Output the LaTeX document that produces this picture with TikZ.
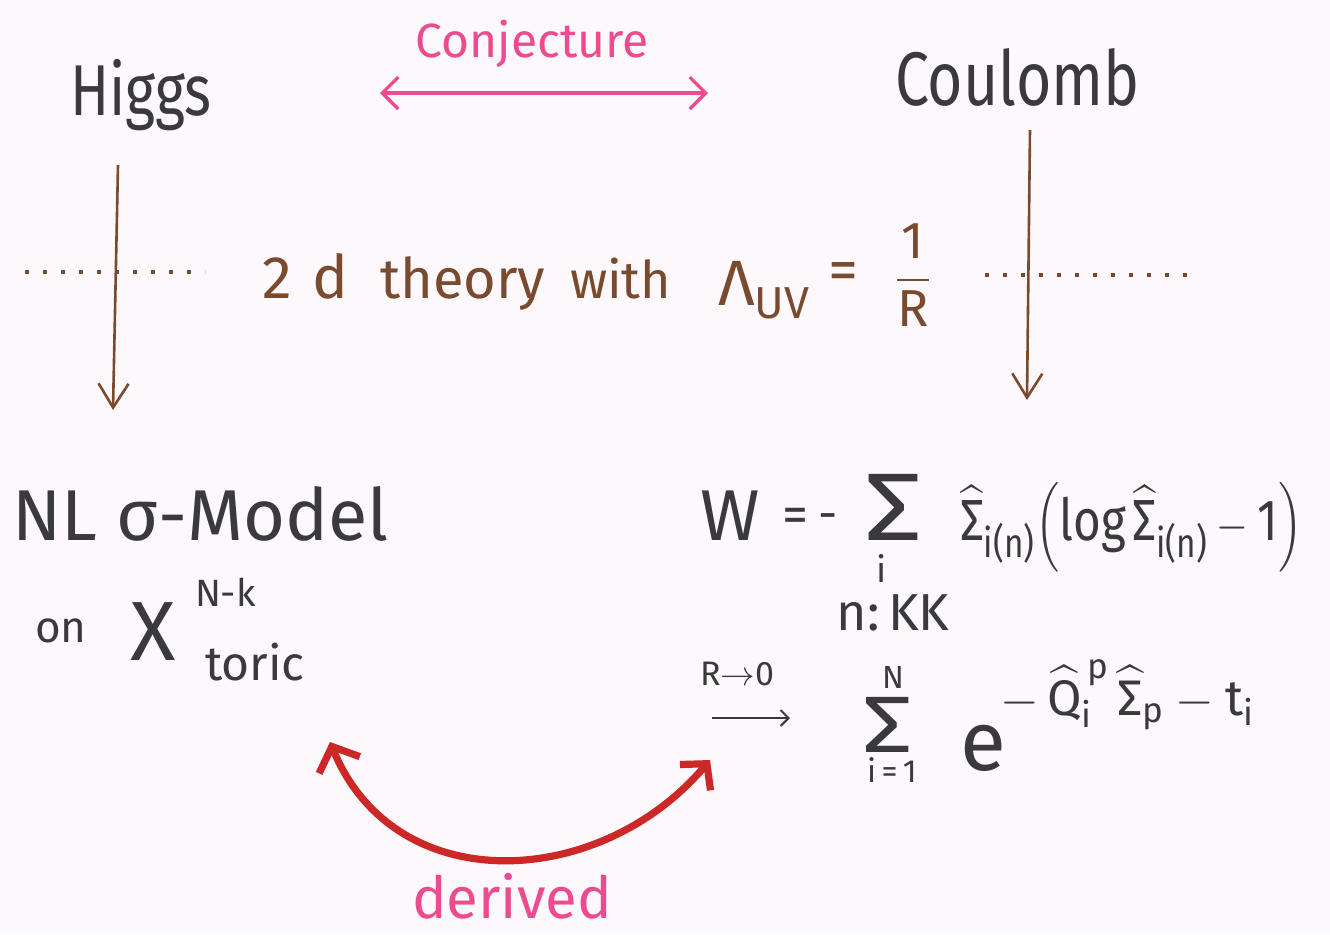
\documentclass[tikz,border=0pt]{standalone}
\usepackage{fontspec}
\usepackage{amsmath}
\usepackage{graphicx}
\setmainfont{Fira Sans}
\usetikzlibrary{arrows.meta}
\definecolor{bg}{HTML}{FCF8FB}
\definecolor{ink}{HTML}{3A3A3E}
\definecolor{brn}{HTML}{7A4A2E}
\definecolor{pnk}{HTML}{EE4A90}
\definecolor{redarr}{HTML}{CC2828}
\newcommand{\fs}[1]{\fontsize{#1}{#1}\selectfont}
\newcommand{\sq}[2]{\scalebox{#1}[1]{#2}}
\begin{document}
\begin{tikzpicture}[x=0.5pt,y=-0.5pt,
  txt/.style={inner sep=0pt, outer sep=0pt},
  inktxt/.style={txt, text=ink},
  brtxt/.style={txt, text=brn},
  pktxt/.style={txt, text=pnk},
  brarrow/.style={draw=brn, line width=1.3pt, -{Straight Barb[length=12pt,width=15pt]}},
  pkarrow/.style={draw=pnk, line width=1.6pt, {Straight Barb[length=8pt,width=16pt]}-{Straight Barb[length=8pt,width=16pt]}},
  dotline/.style={draw=brn, line width=2pt, dash pattern=on 2pt off 7pt},
  redarrow/.style={draw=redarr, line width=3.6pt, {Straight Barb[length=10pt,width=22pt]}-{Straight Barb[length=9pt,width=20pt]}}]
\fill[bg] (0,0) rectangle (1330,934);
\useasboundingbox (0,0) rectangle (1330,934);

% top labels
\node[inktxt, anchor=base west] (higgs) at (70,115) {\fs{36}\sq{0.8}{Higgs}};
\node[pktxt, anchor=base] (conj) at (532,57) {\fs{24}Conjecture};
\node[inktxt, anchor=base west] (coul) at (895,105) {\fs{38}\sq{0.8}{Coulomb}};

% conjecture arrow
\coordinate (pl) at (380,93);
\coordinate (pr) at (708,93);
\draw[pkarrow] (pl) -- (pr);

% dotted lines
\coordinate (dl1) at (25,272);
\coordinate (dl2) at (205,272);
\coordinate (dr1) at (985,275);
\coordinate (dr2) at (1195,275);
\draw[dotline] (dl1) -- (dl2);
\draw[dotline] (dr1) -- (dr2);

% brown arrows
\coordinate (lt) at (118,165);
\coordinate (lb) at (113,410);
\coordinate (rt) at (1030,130);
\coordinate (rb) at (1027,400);
\draw[brarrow] (lt) -- (lb);
\draw[brarrow] (rt) -- (rb);

% 2d theory line
\node[brtxt, anchor=base west] (twod) at (262,298) {\fs{30}2\hspace{0.35em}d};
\node[brtxt, anchor=base west] (theory) at (380,298) {\fs{28}theory};
\node[brtxt, anchor=base west] (with) at (570,298) {\fs{26}with};
\node[brtxt, anchor=base west] (lam) at (718,305) {\fs{32}$\text{Λ}_{\text{UV}}$};
\node[brtxt, anchor=base west] (eq) at (828,290) {\fs{30}=};
\node[brtxt, anchor=center] (frac) at (913,275) {\fs{26}$\dfrac{\text{1}}{\text{R}}$};

% NL sigma model
\node[inktxt, anchor=base west] (nl) at (12,540) {\fs{36}NL σ-Model};
\node[inktxt, anchor=base west] (on) at (35,642) {\fs{22}on};
\node[inktxt, anchor=base west] (X) at (130,660) {\fs{42}X};
\node[inktxt, anchor=base west] (Nk) at (195,606) {\fs{19}N-k};
\node[inktxt, anchor=base west] (toric) at (205,680) {\fs{24}toric};

% W formula
\node[inktxt, anchor=base west] (W) at (700,540) {\fs{36}W};
\node[inktxt, anchor=base west] (eqW) at (782,532) {\fs{26}=};
\node[inktxt, anchor=base west] (mW) at (818,530) {\fs{24}-};
\node[inktxt, anchor=base] (bigsum) at (893,540) {\fs{48}\sq{1.2}{Σ}};
\node[inktxt, anchor=base] (sumi) at (882,582) {\fs{18}i};
\node[inktxt, anchor=base] (nkk) at (893,630) {\fs{26}n:\,KK};
\node[inktxt, anchor=base west] (Wrest) at (960,540) {\fs{29}\sq{0.82}{$\widehat{\text{Σ}}_{\text{i(n)}}\Bigl(\text{log}\,\widehat{\text{Σ}}_{\text{i(n)}} - \text{1}\Bigr)$}};

% limit
\node[inktxt, anchor=base west] (rto) at (700,685) {\fs{17}R$\to$0};
\coordinate (la1) at (712,718);
\coordinate (la2) at (790,718);
\draw[draw=ink, line width=1pt, -{Straight Barb[length=4pt,width=8pt]}] (la1) -- (la2);
\node[inktxt, anchor=base] (sum2) at (888,752) {\fs{40}\sq{1.25}{Σ}};
\node[inktxt, anchor=base] (N) at (893,688) {\fs{16}N};
\node[inktxt, anchor=base] (i1) at (892,782) {\fs{16}i\,=\,1};
\node[inktxt, anchor=base west] (e) at (960,770) {\fs{42}e};
\node[inktxt, anchor=base west] (expo) at (1000,715) {\fs{25}$-\,\widehat{\text{Q}}^{\,\text{p}}_{\text{i}}\,\widehat{\text{Σ}}_{\text{p}} - \text{t}_{\text{i}}$};

% derived arrow
\coordinate (ra) at (330,742);
\coordinate (rbb) at (710,760);
\draw[redarrow] (ra) .. controls (395,900) and (600,890) .. (rbb);
\node[pktxt, anchor=base] (der) at (512,918) {\fs{29}derived};
\end{tikzpicture}
\end{document}
